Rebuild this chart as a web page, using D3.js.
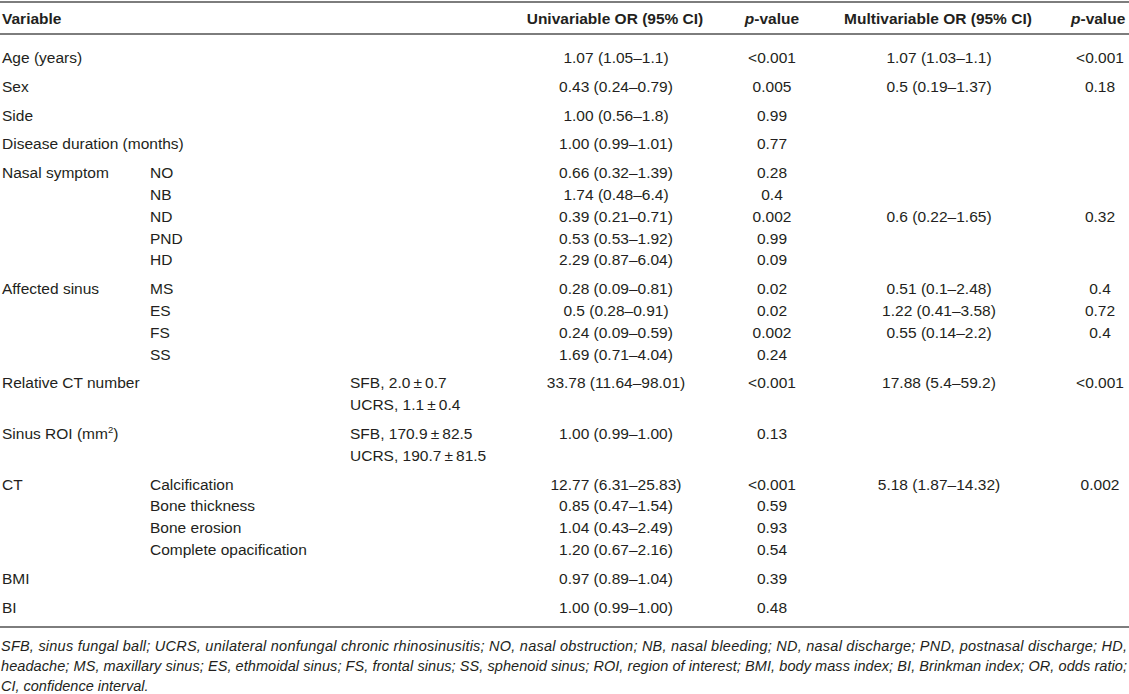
<!DOCTYPE html>
<html>
<head>
<meta charset="utf-8">
<script src="https://cdn.jsdelivr.net/npm/d3@7"></script>
<style>
  html, body { margin: 0; padding: 0; background: #fff; }
  svg { display: block; font-family: "Liberation Sans", Arial, Helvetica, sans-serif; }
</style>
</head>
<body>
<div id="table"></div>
<script>
'use strict';

// ── Table content ──────────────────────────────────
var headers = ['Variable', 'Univariable OR (95% CI)', 'p-value', 'Multivariable OR (95% CI)', 'p-value'];

var varLabels = ['Age (years)', 'Sex', 'Side', 'Disease duration (months)', 'Nasal symptom', '', '', '', '',
  'Affected sinus', '', '', '', 'Relative CT number', '', 'Sinus ROI (mm²)', '', 'CT', '', '', '', 'BMI', 'BI'];

var subLabels = ['', '', '', '', 'NO', 'NB', 'ND', 'PND', 'HD', 'MS', 'ES', 'FS', 'SS', '', '', '', '',
  'Calcification', 'Bone thickness', 'Bone erosion', 'Complete opacification', '', ''];

var groupStats = ['', '', '', '', '', '', '', '', '', '', '', '', '',
  'SFB, 2.0\u2009±\u20090.7', 'UCRS, 1.1\u2009±\u20090.4', 'SFB, 170.9\u2009±\u200982.5', 'UCRS, 190.7\u2009±\u200981.5',
  '', '', '', '', '', ''];

var uniOR = ['1.07 (1.05–1.1)', '0.43 (0.24–0.79)', '1.00 (0.56–1.8)', '1.00 (0.99–1.01)', '0.66 (0.32–1.39)',
  '1.74 (0.48–6.4)', '0.39 (0.21–0.71)', '0.53 (0.53–1.92)', '2.29 (0.87–6.04)', '0.28 (0.09–0.81)',
  '0.5 (0.28–0.91)', '0.24 (0.09–0.59)', '1.69 (0.71–4.04)', '33.78 (11.64–98.01)', '', '1.00 (0.99–1.00)', '',
  '12.77 (6.31–25.83)', '0.85 (0.47–1.54)', '1.04 (0.43–2.49)', '1.20 (0.67–2.16)', '0.97 (0.89–1.04)', '1.00 (0.99–1.00)'];

var uniP = ['<0.001', '0.005', '0.99', '0.77', '0.28', '0.4', '0.002', '0.99', '0.09', '0.02', '0.02', '0.002',
  '0.24', '<0.001', '', '0.13', '', '<0.001', '0.59', '0.93', '0.54', '0.39', '0.48'];

var multiOR = ['1.07 (1.03–1.1)', '0.5 (0.19–1.37)', '', '', '', '', '0.6 (0.22–1.65)', '', '',
  '0.51 (0.1–2.48)', '1.22 (0.41–3.58)', '0.55 (0.14–2.2)', '', '17.88 (5.4–59.2)', '', '', '',
  '5.18 (1.87–14.32)', '', '', '', '', ''];

var multiP = ['<0.001', '0.18', '', '', '', '', '0.32', '', '', '0.4', '0.72', '0.4', '', '<0.001', '', '', '',
  '0.002', '', '', '', '', ''];

// which block each row belongs to (blocks get a little extra space above them)
var rowGroup = [0, 1, 2, 3, 4, 4, 4, 4, 4, 5, 5, 5, 5, 6, 6, 7, 7, 8, 8, 8, 8, 9, 10];

var footnotes = [
  'SFB, sinus fungal ball; UCRS, unilateral nonfungal chronic rhinosinusitis; NO, nasal obstruction; NB, nasal bleeding; ND, nasal discharge; PND, postnasal discharge; HD,',
  'headache; MS, maxillary sinus; ES, ethmoidal sinus; FS, frontal sinus; SS, sphenoid sinus; ROI, region of interest; BMI, body mass index; BI, Brinkman index; OR, odds ratio;',
  'CI, confidence interval.'
];

// ── Layout ─────────────────────────────────────────
var W = 1129, H = 694;
var TEXT = '#231f20', RULE = '#7d7d7d';
var FS = 15.5;

var colX = { v: 2, sub: 150, stat: 350, uni: 616, p1: 772, multi: 939, p2: 1100 };
var headX = { v: 2, uni: 615, p1: 772, multi: 938, p2: 1071 };

var rowIdx = d3.range(varLabels.length);
var lineH = 21.8, groupGap = 7.0, firstBase = 63;
function rowY(i) { return firstBase + i * lineH + rowGroup[i] * groupGap; }

var svg = d3.select('#table').append('svg')
  .attr('width', W).attr('height', H)
  .attr('viewBox', '0 0 ' + W + ' ' + H);

svg.append('rect').attr('width', W).attr('height', H).attr('fill', '#fff');

// Rules
[2, 34, 627].forEach(function (y) {
  svg.append('line')
    .attr('x1', 0).attr('x2', W).attr('y1', y).attr('y2', y)
    .attr('stroke', RULE).attr('stroke-width', 2);
});

// ── Header ─────────────────────────────────────────
var hdr = svg.append('g').attr('font-size', FS).attr('font-weight', 'bold').attr('fill', TEXT);
var hdrCells = [
  { key: 'v', text: headers[0], anchor: 'start' },
  { key: 'uni', text: headers[1], anchor: 'middle' },
  { key: 'p1', text: headers[2], anchor: 'middle' },
  { key: 'multi', text: headers[3], anchor: 'middle' },
  { key: 'p2', text: headers[4], anchor: 'start' }
];
hdr.selectAll('text')
  .data(hdrCells)
  .join('text')
  .attr('x', function (d) { return headX[d.key]; })
  .attr('y', 24)
  .attr('text-anchor', function (d) { return d.anchor; })
  .each(function (d) {
    var t = d3.select(this);
    if (d.text.indexOf('p-') === 0) {
      t.append('tspan').attr('font-style', 'italic').text('p');
      t.append('tspan').text(d.text.slice(1));
    } else {
      t.text(d.text);
    }
  });

// ── Body ───────────────────────────────────────────
var body = svg.append('g').attr('font-size', FS).attr('fill', TEXT);

function addColumn(values, key, anchor) {
  body.append('g')
    .selectAll('text')
    .data(rowIdx.filter(function (i) { return values[i] !== ''; }))
    .join('text')
    .attr('x', colX[key])
    .attr('y', function (i) { return rowY(i); })
    .attr('text-anchor', anchor)
    .each(function (i) {
      var s = values[i], t = d3.select(this);
      var k = s.indexOf('²');
      if (k >= 0) {
        t.append('tspan').text(s.slice(0, k));
        t.append('tspan').attr('font-size', 9.5).attr('dy', -6).text('2');
        t.append('tspan').attr('dy', 6).text(s.slice(k + 1));
      } else {
        t.text(s);
      }
    });
}

addColumn(varLabels, 'v', 'start');
addColumn(subLabels, 'sub', 'start');
addColumn(groupStats, 'stat', 'start');
addColumn(uniOR, 'uni', 'middle');
addColumn(uniP, 'p1', 'middle');
addColumn(multiOR, 'multi', 'middle');
addColumn(multiP, 'p2', 'middle');

// ── Footnote (justified lines) ─────────────────────
var foot = svg.append('g').attr('font-size', 14.5).attr('font-style', 'italic').attr('fill', TEXT);
foot.selectAll('text')
  .data(footnotes)
  .join('text')
  .attr('x', 1)
  .attr('y', function (d, i) { return 651 + i * 20; })
  .each(function (d, i) {
    var t = d3.select(this).text(d);
    if (i < footnotes.length - 1) {
      t.attr('textLength', W - 3).attr('lengthAdjust', 'spacing');
    }
  });
</script>
</body>
</html>
